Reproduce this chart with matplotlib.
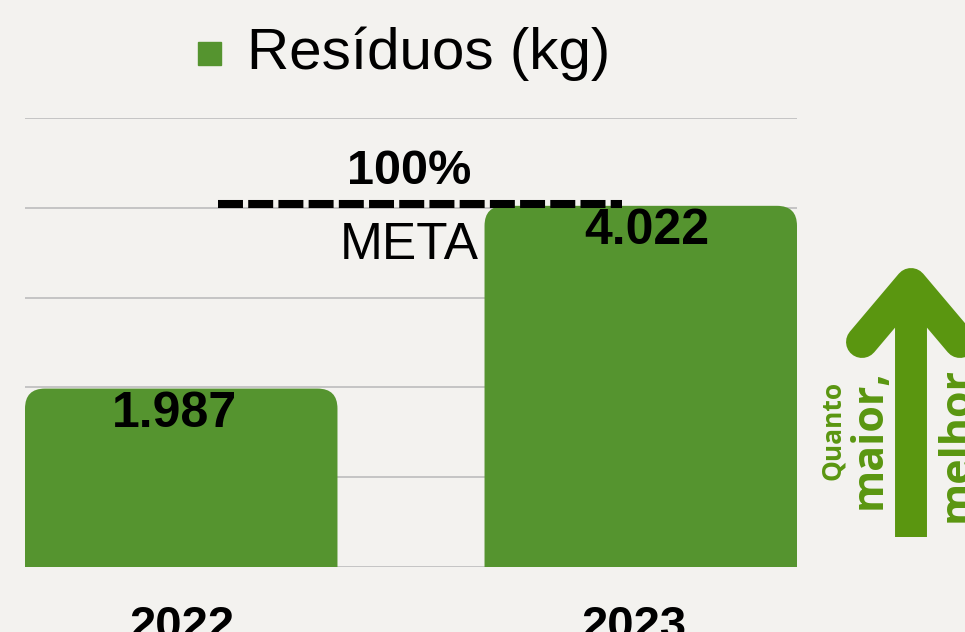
import matplotlib
matplotlib.use("Agg")
import matplotlib.pyplot as plt
from matplotlib.patches import FancyBboxPatch, Patch, Rectangle
from matplotlib.legend_handler import HandlerPatch
from matplotlib.lines import Line2D
import matplotlib.transforms as mtransforms

# data
years = ["2022", "2023"]
residuos = [1987, 4022]
labels = ["1.987", "4.022"]
meta = 4000
series_name = "Resíduos (kg)"

bar_color = "#55942f"
arrow_color = "#5a9610"
bg = "#f3f2ef"

plt.rcParams["font.family"] = ["Liberation Sans", "DejaVu Sans"]

fig = plt.figure(figsize=(9.65, 6.32), dpi=100, facecolor=bg)
ax = fig.add_axes([25 / 965, 1 - 567 / 632, 772 / 965, (567 - 118) / 632])
ax.set_facecolor("none")

x = list(range(len(years)))
width = 0.68
bars = ax.bar(x, residuos, width=width, color=bar_color)

ax.set_xlim(-0.34, 1.34)
ax.set_ylim(0, 5000)
ax.set_yticks(range(0, 5001, 1000))
ax.yaxis.grid(True, color="#c4c4c4", linewidth=1.4)
ax.set_axisbelow(True)
ax.tick_params(left=False, labelleft=False, bottom=False)
for s in ax.spines.values():
    s.set_visible(False)
ax.set_xticks(x)
ax.set_xticklabels(years, fontsize=34, fontweight="bold")
ax.tick_params(axis="x", pad=24)
for t, dx in zip(ax.get_xticklabels(), [1, -7]):
    t.set_transform(t.get_transform() + mtransforms.Affine2D().translate(dx, 0))

# rounded tops: swap each bar for a rounded box that dips under the axis
px_x = 772 / 1.68
px_y = 449 / 5000
r = 20
rx, ry = r / px_x, r / px_y
for b in bars:
    b.set_visible(False)
    p = FancyBboxPatch((b.get_x(), -ry), b.get_width(), b.get_height() + ry,
                       boxstyle=f"round,pad=0,rounding_size={rx}",
                       mutation_aspect=ry / rx, facecolor=bar_color,
                       edgecolor="none", clip_on=True, zorder=2)
    ax.add_patch(p)

for xi, v, lab, dx in zip(x, residuos, labels, [-5, 4]):
    ax.annotate(lab, (xi, v), xytext=(dx, -18), textcoords="offset points",
                ha="center", va="center", fontsize=36, fontweight="bold",
                zorder=4)

# meta line
off = mtransforms.offset_copy(ax.transData, fig=fig, x=0, y=4, units="dots")
ax.plot([0.081, 0.959], [meta, meta], color="black", linewidth=5.8,
        linestyle=(0, (3.1, 0.65)), solid_capstyle="butt",
        dash_capstyle="butt", transform=off, zorder=3)
ax.annotate("100%", (0.497, meta), xytext=(0, 26), textcoords="offset points",
            ha="center", va="center", fontsize=35, fontweight="bold")
ax.annotate("META", (0.497, meta), xytext=(0, -27), textcoords="offset points",
            ha="center", va="center", fontsize=37)


# legend: small square sitting near the text baseline
def square_handle(legend, orig_handle, xdescent, ydescent, width, height, fontsize):
    return Rectangle((-xdescent, 2.3), 16.5, 16.5)


ax.legend(handles=[Patch(color=bar_color, label=series_name)],
          handler_map={Patch: HandlerPatch(patch_func=square_handle)},
          loc="center", bbox_to_anchor=(0.491, 1.144),
          bbox_transform=ax.transAxes, frameon=False, fontsize=42,
          handlelength=0.4, handletextpad=0.45)

# "quanto maior, melhor" arrow
fig.add_artist(Line2D([911 / 965, 911 / 965], [1 - 537 / 632, 1 - 290 / 632],
                      color=arrow_color, linewidth=23, solid_capstyle="butt"))
fig.add_artist(Line2D([862 / 965, 911 / 965, 960 / 965],
                      [1 - 342 / 632, 1 - 284 / 632, 1 - 342 / 632],
                      color=arrow_color, linewidth=23, solid_capstyle="round",
                      solid_joinstyle="round"))
tf = dict(rotation=90, ha="center", va="center", color=arrow_color,
          fontweight="bold", family=["Open Sans", "DejaVu Sans"])
fig.text(833 / 965, 1 - 430 / 632, "Quanto", fontsize=19, **tf)
fig.text(869 / 965, 1 - 439 / 632, "maior,", fontsize=31, **tf)
fig.text(957 / 965, 1 - 444 / 632, "melhor", fontsize=31, **tf)

fig.savefig("out.png", dpi=100, facecolor=bg)
